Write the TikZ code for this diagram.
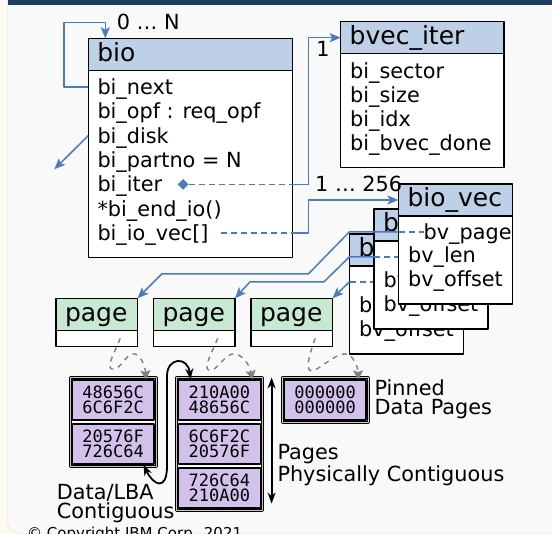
\documentclass[tikz,border=0pt]{standalone}
\usepackage{fontspec}
\setmainfont{DejaVu Sans}
\setmonofont{DejaVu Sans Mono}
\usetikzlibrary{positioning,arrows.meta,shapes.geometric,fit}
\definecolor{navybar}{RGB}{28,62,96}
\definecolor{stripbg}{RGB}{253,249,240}
\definecolor{panelbg}{RGB}{249,249,249}
\definecolor{hdblue}{RGB}{190,208,232}
\definecolor{pgmint}{RGB}{199,233,211}
\definecolor{hexlav}{RGB}{210,194,235}
\definecolor{linkblue}{RGB}{74,122,194}
\begin{document}
\begin{tikzpicture}[x=1pt,y=-1pt,line join=round,font=\fontsize{20.8}{24.4}\selectfont,
	classhead/.style={draw,line width=1.4pt,fill=hdblue,anchor=north west,outer sep=0pt,inner xsep=9pt,inner ysep=0pt,minimum height=32pt,text height=18.5pt,text depth=4.5pt,align=left,font=\fontsize{25}{25}\selectfont},
	classbody/.style={draw,line width=1.4pt,fill=white,anchor=north west,outer sep=0pt,inner sep=0pt},
	field/.style={anchor=base west,inner sep=0pt,text height=15pt,text depth=0pt},
	link/.style={linkblue,line width=1.5pt},
	dlink/.style={link,dash pattern=on 6pt off 4pt},
	arr/.style={-{Stealth[length=11pt,width=9pt,inset=2.5pt]}},
	fetch/.style={gray,line width=1.4pt,dash pattern=on 5pt off 5pt,-{Stealth[length=9pt,width=10pt,inset=1.5pt]}},
	curvelink/.style={line width=1.8pt,{Stealth[length=11pt,width=8pt]}-{Stealth[length=11pt,width=8pt]}},
	cell/.style={draw,line width=1.1pt,fill=hexlav,minimum width=81.5pt,minimum height=40pt,inner sep=0pt,align=center,font=\fontsize{17}{15}\selectfont\ttfamily},
	blockframe/.style={draw,line width=1pt,double=gray!45,double distance=1pt,inner sep=1.5pt},
	note/.style={anchor=north west,inner sep=0pt,align=left}]
	\useasboundingbox (0,0) rectangle (552,534);
	\fill[stripbg] (0,0) rectangle (552,534);
	\filldraw[fill=panelbg,draw=gray!25,rounded corners=12pt] (7.5,-20) rectangle (570,533.5);
	\fill[navybar] (7.5,0) rectangle (552,5.5);
	\path (64,22.3)coordinate(loop)
	(54.3,169.3)coordinate(disk)
	(308.3,0)coordinate(bend);
	\node[classhead,text width=186pt] (bio) at (88.3,38.3) {bio};
	\node[classbody,minimum width=204pt,minimum height=187.5pt] (bio-b) at (bio.south west) {};
	\foreach \f [count=\i] in {bi\_next,bi\_opf : req\_opf,bi\_disk,bi\_partno = N,bi\_iter,*bi\_end\_io(),{bi\_io\_vec[]}}
	\node[field] (bio-\i) at ([shift={(9,24.4*\i-0.4)}]bio-b.north west) {\f};
	\node[classhead,text width=145.3pt] (bvec) at (340.7,21.7) {bvec\_iter};
	\node[classbody,minimum width=163.3pt,minimum height=114pt] (bvec-b) at (bvec.south west) {};
	\foreach \f [count=\i] in {bi\_sector,bi\_size,bi\_idx,bi\_bvec\_done}
	\node[field] (bvec-\i) at ([shift={(9.3,24.2*\i+0.3)}]bvec-b.north west) {\f};
	\foreach \i/\x in {1/56,2/153.5,3/251}{
		\node[classhead,fill=pgmint,text width=63.5pt] (pg\i) at (\x,298.3) {page};
		\node[classbody,minimum width=81.5pt,minimum height=16pt] (pg\i-b) at (pg\i.south west) {};
	}
	\foreach \n/\x/\y/\a/\b in {c11/113.2/400/48656C/6C6F2C,c12/113.2/444/20576F/726C64,c21/219.3/400/210A00/48656C,c22/219.3/444/6C6F2C/20576F,c23/219.3/488/726C64/210A00,c31/325.2/400/000000/000000}
	\node[cell] (\n) at (\x,\y) {\a\\\b};
	\node[blockframe,fit=(c11)(c12)] (blk1) {};
	\node[blockframe,fit=(c21)(c23)] (blk2) {};
	\node[blockframe,fit=(c31)] (blk3) {};
	\draw[fetch] ([xshift=23.5pt]pg1-b.center) .. controls (113,356) and (104,371) .. (115,369) .. controls (122,367) and (127,352) .. (135,354) .. controls (141,356) and (145,366) .. ([xshift=-8.3pt]c11.north east);
	\draw[fetch] ([xshift=23.5pt]pg2-b.center) .. controls (210,357) and (201,372) .. (212,370) .. controls (220,367) and (226,352) .. (236,354) .. controls (245,357) and (250,367) .. ([xshift=-8.3pt]c21.north east);
	\draw[fetch] ([xshift=23.5pt]pg3-b.center) .. controls (309,356) and (303,375) .. (315,370) .. controls (328,363) and (340,350) .. (349,355) .. controls (355,359) and (358,368) .. ([xshift=-8.3pt]c31.north east);
	\foreach \n/\x/\y in {v3/349.5/234,v2/374/209,v1/398.5/184}{
		\node[classhead,text width=96pt] (\n) at (\x,\y) {bio\_vec};
		\node[classbody,minimum width=114pt,minimum height=88pt] (\n-b) at (\n.south west) {};
		\node[field] (\n-1) at ([shift={(25,23.3)}]\n-b.north west) {bv\_page};
		\node[field] (\n-2) at ([shift={(9.4,47)}]\n-b.north west) {bv\_len};
		\node[field] (\n-3) at ([shift={(9.4,70.6)}]\n-b.north west) {bv\_offset};
		\draw[dlink] (\n-b.west |- \n-1) -- (\n-1.west);
	}
	\draw[link,arr] (bio-b.west |- bio-1) -| (loop) -| ([xshift=17pt]bio.north west);
	\node[anchor=base west] (zeroN) at (113.3,29.3) {0 … N};
	\draw[link,arr] (bio-b.west |- bio-3) -- (disk);
	\node[diamond,fill=linkblue,inner sep=0pt,minimum width=11pt,minimum height=11pt,right=15pt of bio-5] (iterdot) {};
	\draw[dlink] (iterdot) -- (iterdot -| bio.east);
	\draw[link,arr] (iterdot -| bio.east) -- (iterdot -| bend) |- (bvec);
	\node[anchor=base] (one) at (323,56.5) {1};
	\node[anchor=base west] (many) at (311.7,191.7) {1 … 256};
	\draw[dlink] ([xshift=12pt]bio-7.east) -- (bio-7 -| bio.east);
	\draw[link,arr] (bio-7 -| bio.east) -- (bio-7 -| bend) |- (v1);
	\draw[link,arr] (v1-b.west |- v1-1) -- ++(-49,0) -- ++(-41,42) -- ++(-146.6,0) -- (pg1.north east);
	\draw[link,arr] (v2-b.west |- v2-1) -- ++(-24.5,0) -- ++(-25.5,25) -- ++(-74,0) -- (pg2.north east);
	\draw[link,arr] (v3-b.west |- v3-1) -- (pg3.north east);
	\draw[curvelink] ([xshift=-11pt]c12.south east) .. controls (153,485) and (167,492) .. (167,466) -- (167,376) .. controls (167,357) and (188,356) .. ([xshift=12.5pt]c21.north west);
	\draw[curvelink] ([xshift=9pt]blk2.north east) -- ([xshift=9pt,yshift=7pt]blk2.south east);
	\node[note,font=\fontsize{20.8}{18.5}\selectfont] (pinned) at (374.3,379.8) {Pinned\\Data Pages};
	\node[note,font=\fontsize{20.8}{21.7}\selectfont] (physnote) at (277.3,444.5) {Pages\\Physically Contiguous};
	\node[note,font=\fontsize{20.8}{18.3}\selectfont] (lbanote) at (56.7,484.5) {Data/LBA\\Contiguous};
	\node[anchor=base west,inner sep=0pt,font=\fontsize{15}{15}\selectfont] (copy) at (27,538.5) {© Copyright IBM Corp. 2021};
\end{tikzpicture}
\end{document}
